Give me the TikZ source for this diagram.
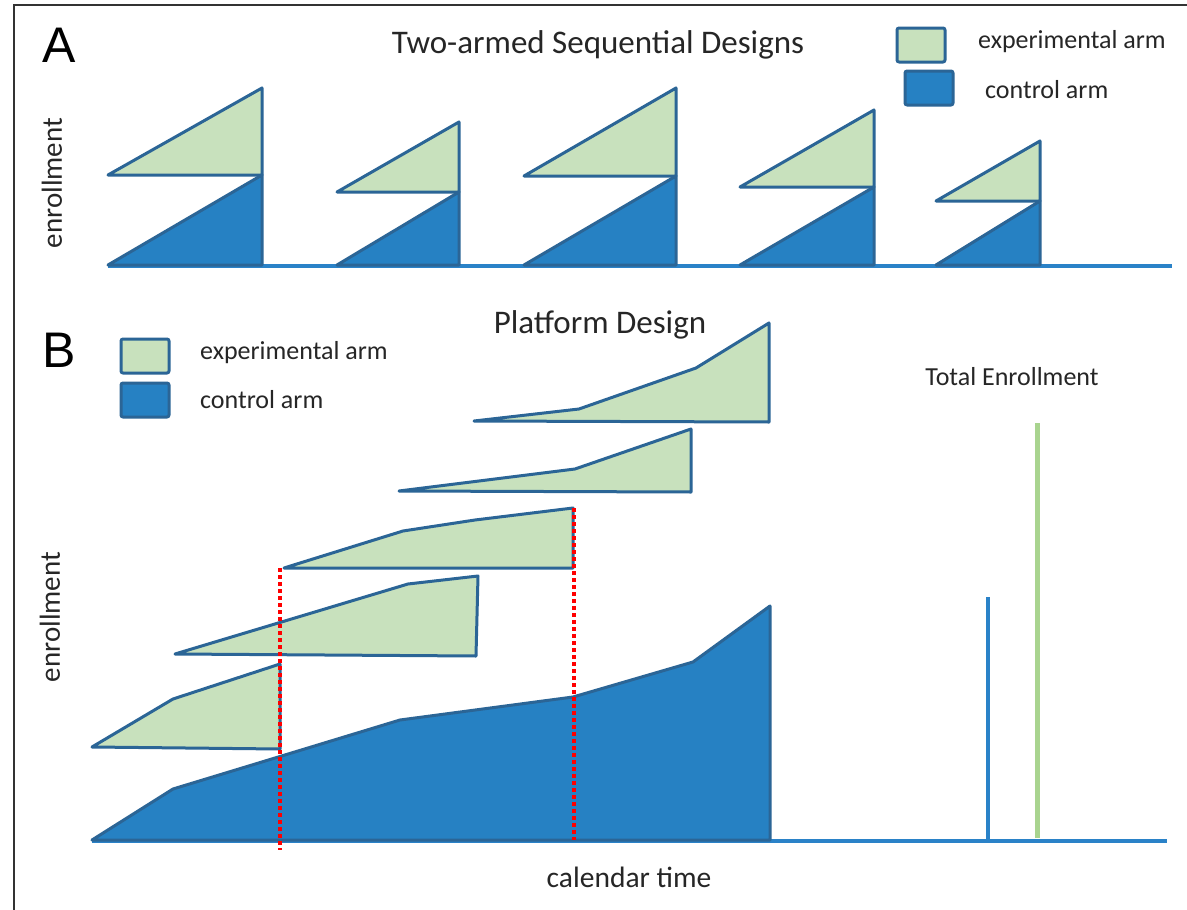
\documentclass[tikz,border=0pt]{standalone}
\usepackage{fontspec}
\setmainfont{Carlito}
\newfontfamily\arialfont{Liberation Sans}
\definecolor{expfill}{HTML}{C8E1BD}
\definecolor{edgeblue}{HTML}{2B6596}
\definecolor{ctrlfill}{HTML}{2681C3}
\definecolor{axisblue}{HTML}{2A82C8}
\definecolor{lightgreen}{HTML}{A9D48F}
\definecolor{txt}{HTML}{262626}
\tikzset{
  expshape/.style={fill=expfill, draw=edgeblue, line width=3pt, line join=round},
  ctrlshape/.style={fill=ctrlfill, draw=edgeblue, line width=3pt, line join=round},
  axisline/.style={draw=axisblue, line width=4pt},
  reddots/.style={draw=red, line width=3.5pt, dash pattern=on 4pt off 3pt},
  legbox/.style={minimum width=48pt, minimum height=34pt, inner sep=0pt, rounded corners=2pt},
  lbl/.style={text=txt, inner sep=0pt},
  panel/.style={text=black, inner sep=0pt, font=\arialfont\fontsize{50}{53}\selectfont},
}
\begin{document}
\begin{tikzpicture}[x=1pt, y=-1pt]
\useasboundingbox (0,0) rectangle (1187,910);
\fill[white] (0,0) rectangle (1187,910);
% frame
\draw[line width=1.5pt, black!80] (14,910) -- (14,5) -- (1187,5);

% ---------------- Panel A ----------------
\node[panel] (labA) at (59,45) {A};
\node[lbl, font=\fontsize{33}{38}\selectfont] (titleA) at (598,45) {Two-armed Sequential Designs};
\node[lbl, rotate=90, font=\fontsize{29}{34}\selectfont] (yA) at (52,183) {enrollment};
\node[legbox, expshape] (legAexp) at (921,45) {};
\node[legbox, ctrlshape] (legActrl) at (929,88) {};
\node[lbl, anchor=west, font=\fontsize{26}{30}\selectfont] (legAexpT) at (978,42) {experimental arm};
\node[lbl, anchor=west, font=\fontsize{26}{30}\selectfont] (legActrlT) at (985,90) {control arm};

\draw[axisline] (108,266) -- (1172,266);
% trial 1
\draw[ctrlshape] (108,265) -- (262,175) -- (262,265) -- cycle;
\draw[expshape] (108,175) -- (262,88) -- (262,175) -- cycle;
% trial 2
\draw[ctrlshape] (337,265) -- (459,192) -- (459,265) -- cycle;
\draw[expshape] (337,192) -- (459,122) -- (459,192) -- cycle;
% trial 3
\draw[ctrlshape] (524,265) -- (676,176) -- (676,265) -- cycle;
\draw[expshape] (524,176) -- (676,88) -- (676,176) -- cycle;
% trial 4
\draw[ctrlshape] (740,265) -- (874,187) -- (874,265) -- cycle;
\draw[expshape] (740,187) -- (874,110) -- (874,187) -- cycle;
% trial 5
\draw[ctrlshape] (936,265) -- (1040,201) -- (1040,265) -- cycle;
\draw[expshape] (936,201) -- (1040,141) -- (1040,201) -- cycle;

% ---------------- Panel B ----------------
\node[panel] (labB) at (59,350) {B};
\node[lbl, font=\fontsize{33}{38}\selectfont] (titleB) at (600,325) {Platform Design};
\node[lbl, rotate=90, font=\fontsize{29}{34}\selectfont] (yB) at (50,617) {enrollment};
\node[legbox, expshape] (legBexp) at (145,356) {};
\node[legbox, ctrlshape] (legBctrl) at (145,400) {};
\node[lbl, anchor=west, font=\fontsize{26}{30}\selectfont] (legBexpT) at (200,353) {experimental arm};
\node[lbl, anchor=west, font=\fontsize{26}{30}\selectfont] (legBctrlT) at (200,400) {control arm};
\node[lbl, font=\fontsize{26}{30}\selectfont] (total) at (1012,377) {Total Enrollment};
\node[lbl, font=\fontsize{29.5}{34}\selectfont] (caltime) at (629,877) {calendar time};

\draw[axisline] (92,841) -- (1167,841);
% control arm accrual
\draw[ctrlshape] (92,840) -- (173,789) -- (400,720) -- (573,697) -- (693,662) -- (770,606) -- (770,840) -- cycle;
% experimental arms
\draw[expshape] (92,747) -- (173,699) -- (280,664) -- (280,749) -- cycle;
\draw[expshape] (175,654) -- (408,584) -- (478,576) -- (476,656) -- cycle;
\draw[expshape] (284,568) -- (403,531) -- (475,520) -- (573,508) -- (573,568) -- cycle;
\draw[expshape] (399,491) -- (575,469) -- (691,429) -- (691,492) -- cycle;
\draw[expshape] (474,421) -- (579,409) -- (696,368) -- (769,323) -- (769,422) -- cycle;

% red dotted markers
\coordinate (r1top) at (280,568);
\coordinate (r1bot) at (280,850);
\coordinate (r2top) at (574,508);
\coordinate (r2bot) at (574,840);
\draw[reddots] (r1top) -- (r1bot);
\draw[reddots] (r2top) -- (r2bot);

% total enrollment bars
\coordinate (tb1) at (988,597);
\coordinate (tb0) at (988,841);
\coordinate (tg1) at (1037,423);
\coordinate (tg0) at (1037,838);
\draw[draw=axisblue, line width=4pt] (tb0) -- (tb1);
\draw[draw=lightgreen, line width=5pt] (tg0) -- (tg1);
\end{tikzpicture}
\end{document}
